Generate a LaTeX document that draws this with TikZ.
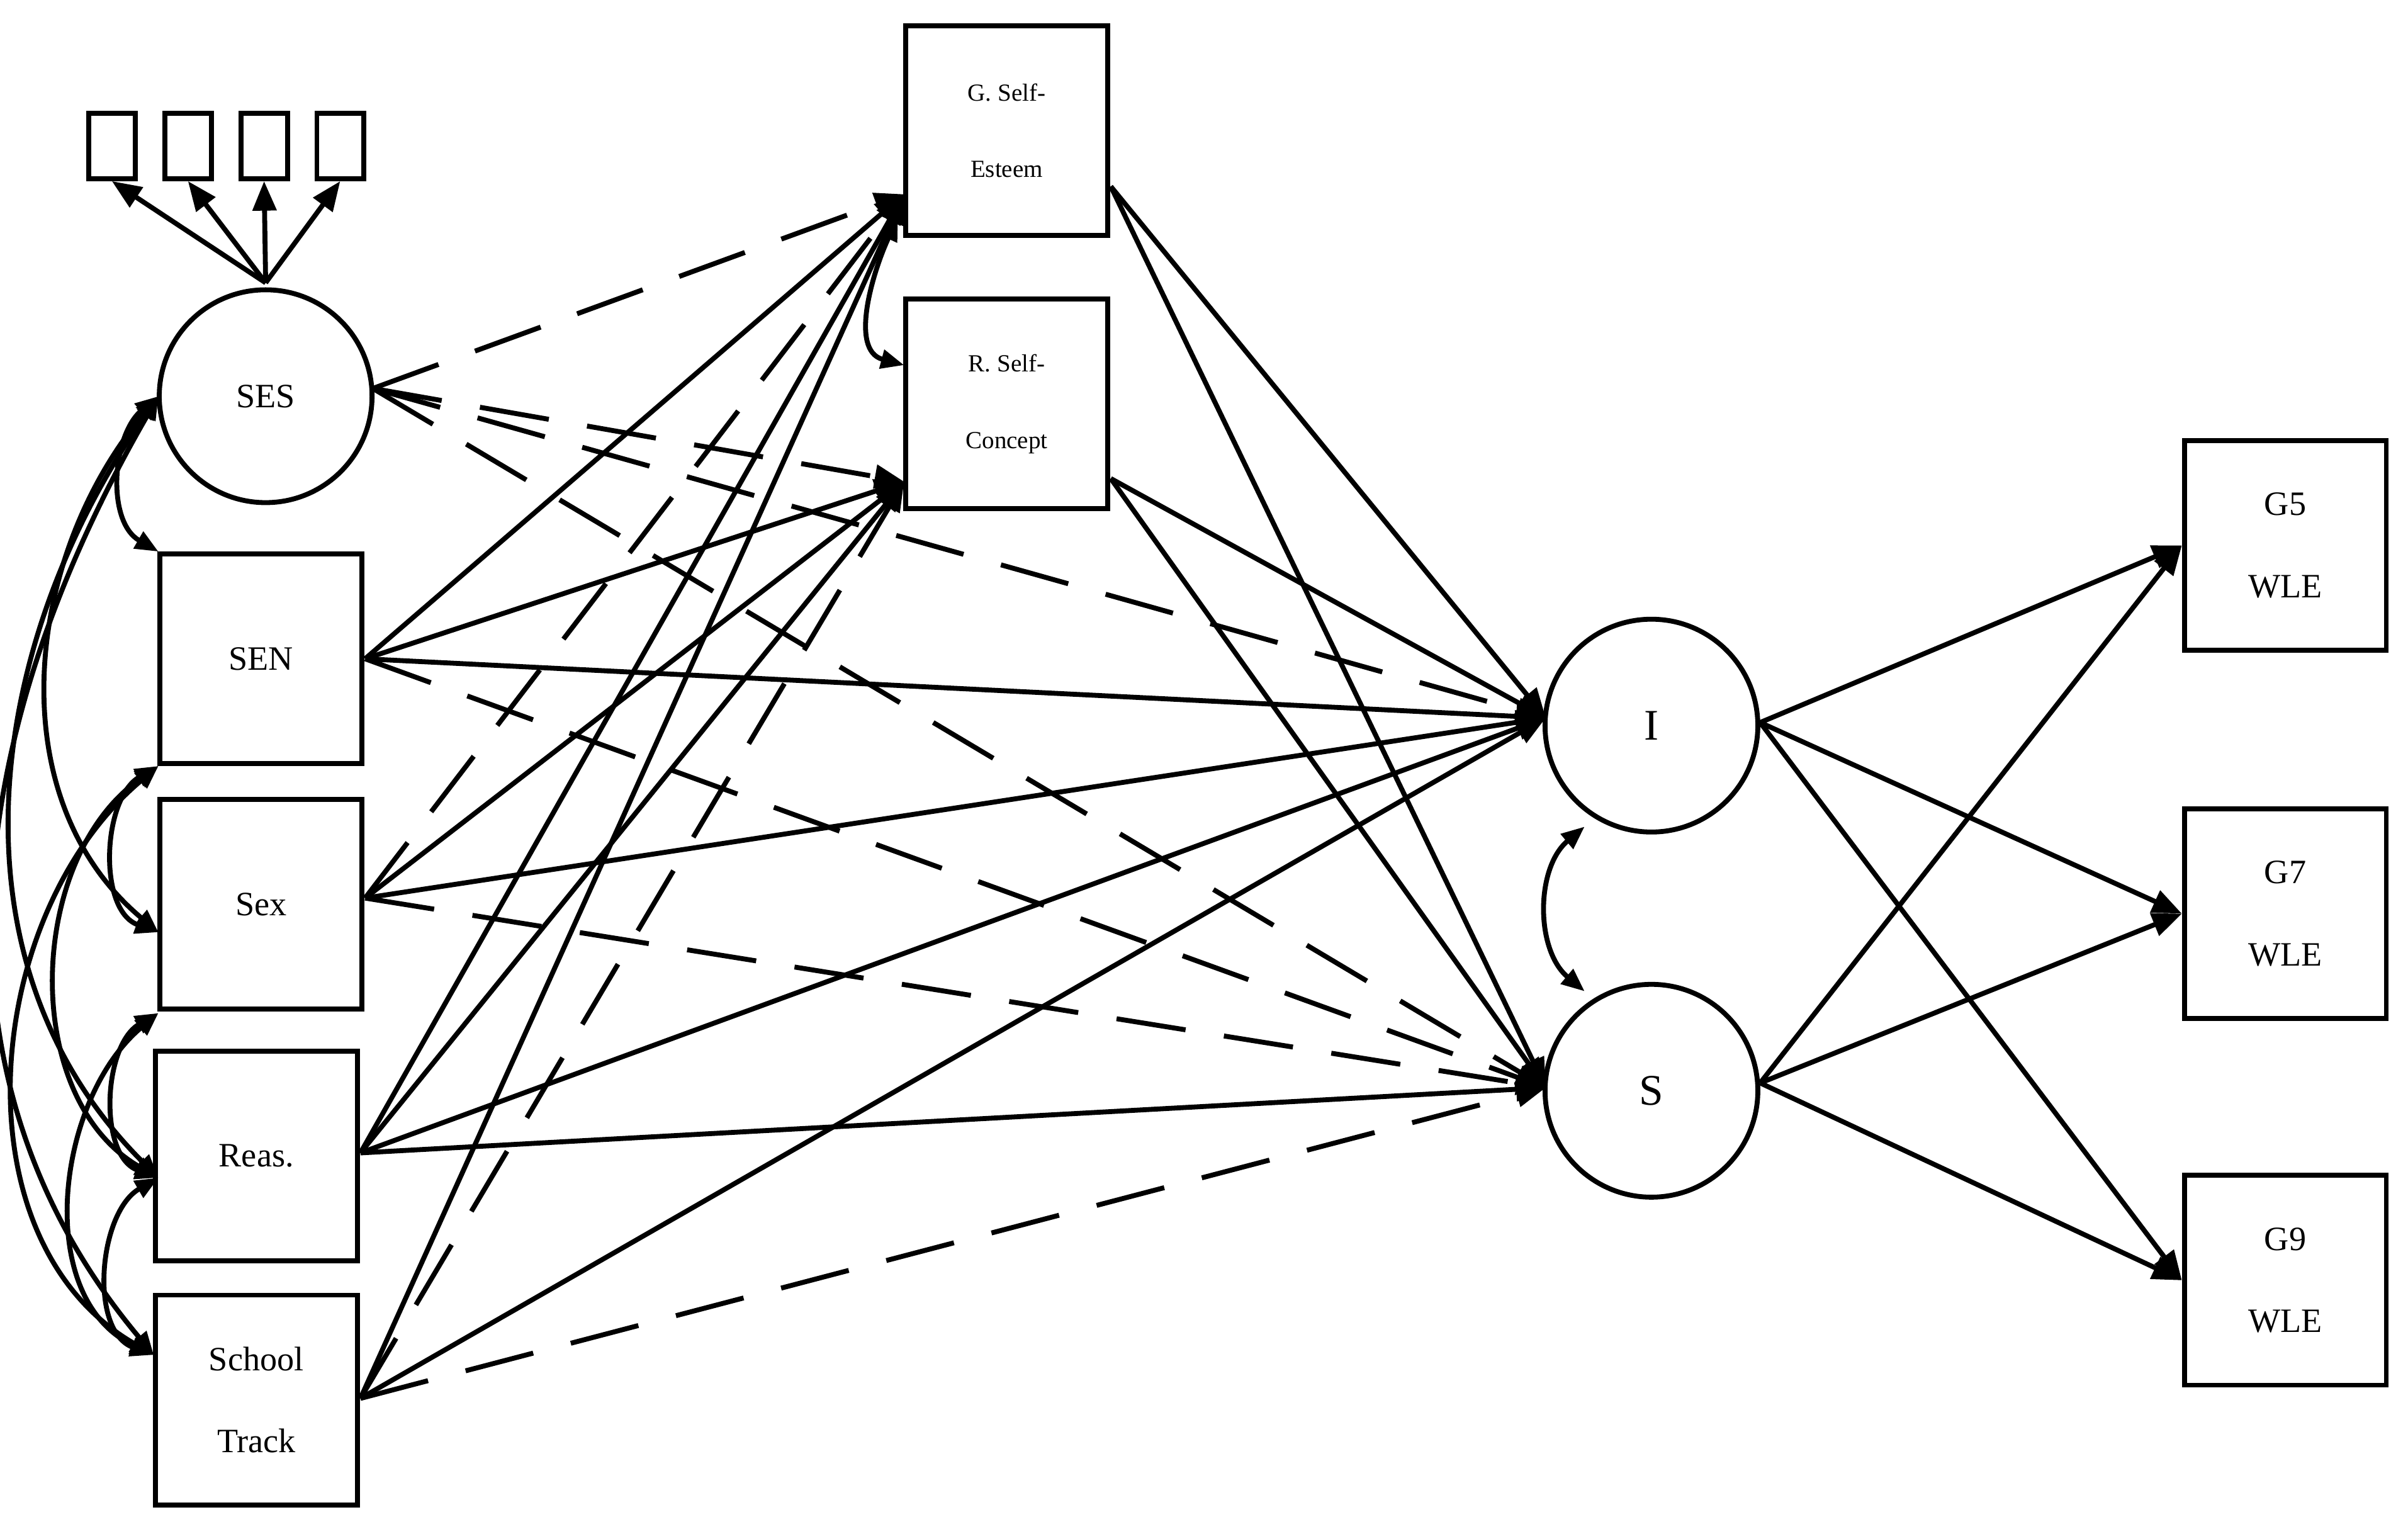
\documentclass[tikz,border=0pt]{standalone}
\usepackage{fontspec}
\setmainfont{Liberation Serif}
\usetikzlibrary{arrows.meta}
\begin{document}
\begin{tikzpicture}[x=0.02cm,y=-0.02cm,
  line width=1.8pt,
  tip/.style={-{Triangle[length=0.38cm,width=0.3cm]}},
  dtip/.style={{Triangle[length=0.3cm,width=0.24cm]}-{Triangle[length=0.3cm,width=0.24cm]}},
  dsh/.style={dash pattern=on 0.9cm off 0.5cm},
  box/.style={draw,line width=1.8pt,minimum width=2.6cm,minimum height=2.7cm,align=center,font=\fontsize{12.5}{30}\selectfont,inner sep=0pt},
  sbox/.style={box,font=\fontsize{9}{28}\selectfont},
  circ/.style={draw,line width=1.8pt,circle,minimum size=2.74cm,inner sep=0pt},
  ind/.style={draw,line width=1.8pt,minimum width=0.6cm,minimum height=0.84cm,inner sep=0pt}]
\useasboundingbox (0,0) rectangle (1550,987);
\node[ind] (i1) at (72,94) {};
\node[ind] (i2) at (121,94) {};
\node[ind] (i3) at (170,94) {};
\node[ind] (i4) at (219,94) {};
\node[circ,font=\fontsize{12.5}{15}\selectfont] (ses) at (171,255) {SES};
\node[box] (sen) at (168,424) {SEN};
\node[box] (sex) at (168,582) {Sex};
\node[box] (rea) at (165,744) {Reas.};
\node[box] (sch) at (165,901) {School\\Track};
\node[sbox] (gse) at (648,84) {G. Self-\\Esteem};
\node[sbox] (rsc) at (648,260) {R. Self-\\Concept};
\node[circ,font=\fontsize{16}{18}\selectfont] (I) at (1063,467) {I};
\node[circ,font=\fontsize{16}{18}\selectfont] (S) at (1063,702) {S};
\node[box] (g5) at (1471,351) {G5\\WLE};
\node[box] (g7) at (1471,588) {G7\\WLE};
\node[box] (g9) at (1471,824) {G9\\WLE};
\coordinate (sesT) at (171,182);
\coordinate (sesR) at (240,250);
\coordinate (senR) at (235,424);
\coordinate (sexR) at (235,578);
\coordinate (reaR) at (232,742);
\coordinate (schR) at (232,900);
\coordinate (gseT) at (582,125);
\coordinate (rscT) at (582,310);
\coordinate (iT) at (995,462);
\coordinate (sT) at (995,700);
\coordinate (gseR) at (715,120);
\coordinate (rscR) at (715,308);
\coordinate (iR) at (1133,465);
\coordinate (sR) at (1133,697);
\foreach \t in {i1,i2,i3,i4} \draw[tip] (sesT) -- (\t.south);
% SES
\draw[dsh,tip] (sesR) -- (gseT);
\draw[dsh,tip] (sesR) -- (rscT);
\draw[dsh,tip] (sesR) -- (iT);
\draw[dsh,tip] (sesR) -- (sT);
% SEN
\draw[tip] (senR) -- (gseT);
\draw[tip] (senR) -- (rscT);
\draw[tip] (senR) -- (iT);
\draw[dsh,tip] (senR) -- (sT);
% Sex
\draw[dsh,tip] (sexR) -- (gseT);
\draw[tip] (sexR) -- (rscT);
\draw[tip] (sexR) -- (iT);
\draw[dsh,tip] (sexR) -- (sT);
% Reas
\draw[tip] (reaR) -- (gseT);
\draw[tip] (reaR) -- (rscT);
\draw[tip] (reaR) -- (iT);
\draw[tip] (reaR) -- (sT);
% School
\draw[tip] (schR) -- (gseT);
\draw[dsh,tip] (schR) -- (rscT);
\draw[tip] (schR) -- (iT);
\draw[dsh,tip] (schR) -- (sT);
% mediators
\draw[tip] (gseR) -- (iT);
\draw[tip] (gseR) -- (sT);
\draw[tip] (rscR) -- (iT);
\draw[tip] (rscR) -- (sT);
% outcomes
\foreach \g in {g5,g7,g9} {
  \draw[tip] (iR) -- (\g.west);
  \draw[tip] (sR) -- (\g.west);
}
% covariances
\draw[dtip] (578,140) to[out=245,in=165] (582,235);
\draw[dtip] (1020,532) to[out=220,in=140] (1020,638);
\coordinate (c1) at (102,255);
\coordinate (c2) at (102,355);
\coordinate (c3) at (102,493);
\coordinate (c3b) at (102,600);
\coordinate (c4) at (102,652);
\coordinate (c4b) at (102,758);
\coordinate (c5b) at (99,872);
\draw[dtip] (c1) to[out=220,in=150] (c2);
\draw[dtip] (c1) to[out=235,in=135] (c4b);
\draw[dtip] (c1) to[out=240,in=130] (c5b);
\draw[dtip] (c1) to[out=230,in=140] (c3b);
\draw[dtip] (c3) to[out=210,in=160] (c3b);
\draw[dtip] (c3) to[out=215,in=150] (c4b);
\draw[dtip] (c3) to[out=220,in=150] (c5b);
\draw[dtip] (c4) to[out=210,in=160] (c4b);
\draw[dtip] (c4) to[out=220,in=155] (c5b);
\draw[dtip] (c4b) to[out=210,in=160] (c5b);
\end{tikzpicture}
\end{document}
